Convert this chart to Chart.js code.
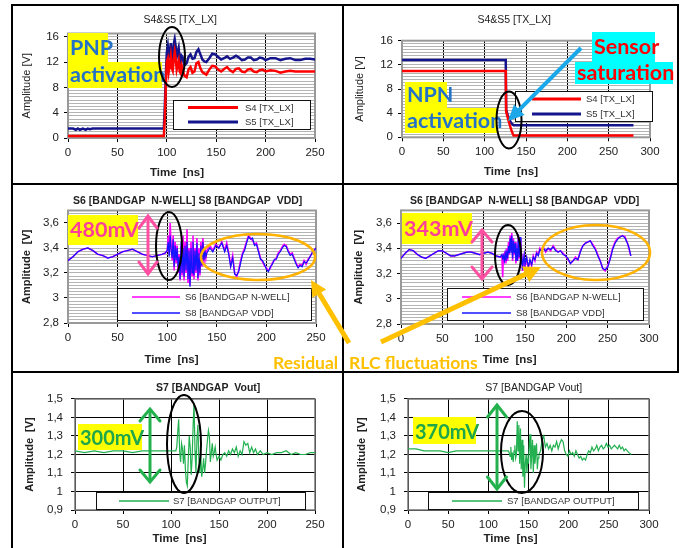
<!DOCTYPE html>
<html><head><meta charset="utf-8">
<script src="https://cdn.jsdelivr.net/npm/chart.js@4.4.1/dist/chart.umd.min.js"></script>
<style>
html,body{margin:0;padding:0;background:#fff;overflow:hidden;}
#root{position:relative;width:683px;height:548px;overflow:hidden;background:#fff;}
#root canvas{position:absolute;}
#ov{position:absolute;left:0;top:0;width:683px;height:548px;}
.tb{position:absolute;font-family:Lato,"Open Sans",sans-serif;font-weight:700;white-space:nowrap;line-height:1;display:flex;align-items:center;box-sizing:border-box;padding-left:2px;}
</style></head>
<body><div id="root"></div>
<script>
// ---------------- DATA ----------------
// Chart 1 : S4 & S5 [TX_LX] (PNP activation)
const c1_t  = [0,5,8,10,12,15,18,20,22,25,30,40,50,60,70,80,90,96,97,98,
  99,100,101,102,103,104,105,106,107,108,109,110,111,112,113,114,115,116,117,118,
  120,122,124,126,128,130,132,134,136,138,140,
  143,146,149,152,155,158,161,164,167,170,173,176,179,182,185,188,191,194,197,200,
  205,210,215,220,225,230,235,240,245,250];
const c1_s4 = [0.3,0.3,0.3,0.3,0.3,0.3,0.3,0.3,0.3,0.3,0.3,0.3,0.3,0.3,0.3,0.3,0.3,0.3,0.3,3,
  8,12,12.5,10.5,11.5,12.8,11,10.6,12.5,13.6,12.5,10.8,11.5,12.2,10.5,10.2,11.5,11,10.2,9.8,
  9.6,10.8,11.2,10.3,10.5,11.8,12,11,10.4,10.2,10,
  10.8,11.4,11.3,10.8,10.5,10.9,11.2,10.7,10.4,10.9,11,10.5,10.4,10.8,10.9,10.5,10.4,10.7,10.8,10.5,
  10.7,10.6,10.3,10.5,10.6,10.5,10.5,10.5,10.5,10.5];
const c1_s5 = [1.5,1.5,1.3,1.5,1.3,1.5,1.3,1.5,1.4,1.5,1.5,1.5,1.5,1.5,1.5,1.5,1.5,1.5,1.5,5,
  10,13.5,14.5,12.8,13,15,13,12.5,14.8,15.6,14.5,12.8,13.5,14.2,12.5,11.8,13,12.8,12,11.5,
  11.8,12.8,13.2,12.5,12.6,13.6,14,13.2,12.4,12.1,12,
  12.6,13.3,13.2,12.8,12.4,12.6,12.9,12.5,12.7,13,12.7,12.3,12.4,12.7,12.7,12.3,12.4,12.7,12.6,12.3,
  12.6,12.6,12.3,12.5,12.6,12.3,12.3,12.5,12.5,12.4];

// Chart 2 : S4 & S5 [TX_LX] (NPN activation)
const c2_t  = [0,125.5,126,128,130,132,134,135,140,200,280];
const c2_s4 = [11,11,4.2,3.2,2.2,1.3,0.6,0.3,0.3,0.3,0.3];
const c2_s5 = [12.8,12.8,4.6,3.6,2.9,2.4,2.1,2.0,2.0,2.0,2.0];

// Chart 3 : S6 / S8 bandgap (left)
const c3_t = [0,5,10,15,20,25,30,35,40,45,50,55,60,65,70,75,80,85,90,95,98,
  100,101,102,103,104,105,106,107,108,109,110,111,112,113,114,115,116,117,118,119,120,
  121,122,123,124,125,126,127,128,129,130,131,132,133,134,135,136,137,138,139,140,
  143,146,149,152,155,158,
  160,162,164,166,168,170,172,174,176,178,180,182,184,186,188,190,192,194,196,198,
  200,202,204,206,208,210,212,214,216,218,220,222,224,226,228,230,232,234,236,238,
  240,242,244,246,248,250];
const c3_s6 = [3.30,3.33,3.37,3.39,3.40,3.38,3.35,3.34,3.32,3.33,3.35,3.37,3.38,3.39,3.37,3.35,3.34,3.33,3.34,3.35,3.36,
  3.38,3.50,3.35,3.60,3.40,3.30,3.50,3.22,3.45,3.28,3.42,3.20,3.35,3.14,3.42,3.18,3.50,3.14,3.45,3.20,3.55,
  3.12,3.40,3.10,3.45,3.18,3.50,3.15,3.40,3.20,3.48,3.14,3.40,3.18,3.45,3.25,3.48,3.28,3.40,3.32,3.38,
  3.42,3.38,3.43,3.40,3.45,3.38,
  3.44,3.36,3.26,3.34,3.20,3.17,3.22,3.30,3.36,3.40,3.45,3.50,3.48,3.46,3.43,3.44,3.38,3.32,3.29,3.26,
  3.24,3.22,3.24,3.28,3.30,3.32,3.36,3.38,3.41,3.43,3.42,3.38,3.35,3.36,3.32,3.28,3.25,3.27,3.26,3.30,
  3.27,3.31,3.33,3.36,3.38,3.40];
const c3_s8 = [3.30,3.33,3.37,3.39,3.40,3.38,3.35,3.34,3.32,3.33,3.35,3.37,3.38,3.39,3.37,3.35,3.34,3.33,3.34,3.35,3.36,
  3.38,3.45,3.33,3.50,3.38,3.32,3.47,3.25,3.42,3.30,3.40,3.25,3.33,3.15,3.45,3.20,3.40,3.17,3.42,3.22,3.45,
  3.15,3.38,3.09,3.40,3.20,3.45,3.18,3.38,3.22,3.44,3.16,3.36,3.20,3.42,3.26,3.45,3.30,3.38,3.33,3.36,
  3.40,3.37,3.42,3.40,3.44,3.37,
  3.42,3.35,3.25,3.32,3.19,3.18,3.21,3.28,3.35,3.38,3.44,3.49,3.47,3.48,3.42,3.43,3.37,3.31,3.30,3.27,
  3.23,3.21,3.25,3.27,3.31,3.31,3.35,3.37,3.40,3.42,3.41,3.37,3.34,3.35,3.31,3.27,3.24,3.26,3.25,3.29,
  3.28,3.30,3.33,3.36,3.38,3.40];

// Chart 4 : S6 / S8 bandgap (right)
const c4_t = [0,5,10,15,20,25,30,35,40,45,50,55,60,65,70,75,80,85,90,95,100,105,110,115,120,
  122,123,124,125,126,127,128,129,130,131,132,133,134,135,136,137,138,139,140,141,142,143,144,145,146,147,148,149,150,
  152,154,156,158,160,162,164,166,168,170,172,
  175,178,181,184,187,190,193,196,199,202,205,208,211,214,217,220,223,226,229,232,
  235,238,241,244,247,250,253,256,259,262,265,268,271,274,276,278];
const c4_s6 = [3.32,3.36,3.39,3.38,3.35,3.33,3.32,3.34,3.36,3.38,3.38,3.36,3.34,3.34,3.35,3.36,3.37,3.37,3.36,3.35,3.36,3.37,3.36,3.34,3.33,
  3.34,3.17,3.36,3.32,3.38,3.28,3.40,3.30,3.45,3.35,3.50,3.38,3.52,3.30,3.48,3.35,3.45,3.28,3.42,3.30,3.50,3.32,3.48,3.28,3.36,3.22,3.30,3.34,3.25,
  3.32,3.24,3.30,3.26,3.34,3.30,3.37,3.35,3.40,3.38,3.41,
  3.37,3.40,3.38,3.42,3.39,3.37,3.38,3.36,3.34,3.31,3.28,3.30,3.33,3.31,3.38,3.42,3.44,3.45,3.46,3.43,
  3.40,3.35,3.30,3.24,3.22,3.26,3.32,3.40,3.45,3.48,3.49,3.50,3.49,3.44,3.39,3.34];
const c4_s8 = [3.32,3.36,3.39,3.38,3.35,3.33,3.32,3.34,3.36,3.38,3.38,3.36,3.34,3.34,3.35,3.36,3.37,3.37,3.36,3.35,3.36,3.37,3.36,3.34,3.33,
  3.35,3.32,3.34,3.30,3.36,3.30,3.38,3.32,3.42,3.36,3.48,3.36,3.50,3.32,3.46,3.36,3.44,3.30,3.40,3.30,3.51,3.33,3.49,3.27,3.35,3.23,3.30,3.35,3.27,
  3.33,3.25,3.31,3.27,3.33,3.31,3.36,3.34,3.39,3.38,3.40,
  3.38,3.40,3.39,3.41,3.38,3.37,3.38,3.35,3.34,3.32,3.28,3.30,3.32,3.31,3.37,3.42,3.44,3.45,3.46,3.42,
  3.39,3.34,3.30,3.24,3.23,3.25,3.31,3.39,3.44,3.47,3.49,3.50,3.48,3.44,3.40,3.34];

// Chart 5 : S7 bandgap Vout (left)
const c5_t = [0,10,20,30,40,50,60,70,80,90,100,105,
  106,107,108,109,110,111,112,113,114,115,116,117,118,119,120,121,122,123,124,125,
  126,127,128,129,130,131,132,133,134,135,136,137,138,139,140,141,142,143,144,145,146,147,148,
  150,152,154,156,158,160,162,164,166,168,170,172,174,176,178,180,182,184,186,188,190,
  193,196,200,205,210,215,220,225,230,235,240,245,250];
const c5_s7 = [1.22,1.21,1.22,1.21,1.22,1.22,1.21,1.22,1.22,1.22,1.22,1.22,
  1.24,1.32,1.39,1.22,1.16,1.26,1.23,1.15,1.25,1.12,1.05,1.03,1.18,1.30,1.24,1.09,1.18,1.35,1.48,1.22,
  1.10,1.28,1.36,1.18,1.10,1.20,1.08,1.12,1.18,1.10,1.15,1.22,1.28,1.33,1.30,1.16,1.21,1.26,1.19,1.21,1.24,1.20,1.17,
  1.19,1.17,1.20,1.21,1.19,1.22,1.20,1.23,1.21,1.24,1.19,1.22,1.20,1.27,1.25,1.26,1.21,1.24,1.21,1.23,1.20,
  1.22,1.20,1.21,1.20,1.21,1.21,1.22,1.20,1.21,1.20,1.20,1.21,1.21];

// Chart 6 : S7 bandgap Vout (right)
const c6_t = [0,10,20,30,40,50,60,70,80,90,100,110,120,125,
  126,127,128,129,130,131,132,133,134,135,136,137,138,139,140,141,142,143,144,145,
  146,147,148,149,150,151,152,153,154,155,156,157,158,159,160,161,162,163,
  165,167,169,171,173,175,177,179,181,183,185,187,189,191,193,195,197,199,201,203,
  205,207,209,211,213,215,217,219,221,223,225,227,229,231,233,235,237,239,241,243,
  245,247,249,251,253,255,257,259,261,263,265,267,269,271,273,275,278];
const c6_s7 = [1.23,1.23,1.22,1.22,1.22,1.21,1.22,1.22,1.22,1.22,1.22,1.22,1.22,1.22,
  1.21,1.19,1.24,1.17,1.21,1.16,1.22,1.25,1.18,1.20,1.38,1.22,1.36,1.15,1.34,1.12,1.28,1.08,1.25,1.02,
  1.15,1.20,1.10,1.18,1.15,1.26,1.31,1.12,1.20,1.28,1.10,1.25,1.15,1.20,1.26,1.12,1.18,1.20,
  1.22,1.28,1.30,1.24,1.26,1.23,1.25,1.22,1.25,1.24,1.27,1.23,1.26,1.28,1.27,1.22,1.20,1.19,1.22,1.20,
  1.21,1.19,1.22,1.20,1.18,1.19,1.17,1.18,1.17,1.20,1.22,1.21,1.24,1.22,1.23,1.25,1.22,1.24,1.25,1.23,
  1.24,1.26,1.24,1.25,1.23,1.24,1.25,1.24,1.23,1.25,1.23,1.24,1.22,1.23,1.22,1.21,1.20];

// Tick labels
const xTicks250 = [0,50,100,150,200,250];
const xTicks300 = [0,50,100,150,200,250,300];
const yTicksTX = [0,4,8,12,16];
const yTicksBG = [2.8,3,3.2,3.4,3.6];
const yTicksVout = [0.9,1,1.1,1.2,1.3,1.4,1.5];

// ---------------- RENDERING ----------------
const root = document.getElementById('root');
const FONT = '"Liberation Sans", Arial, Helvetica, sans-serif';
Chart.defaults.font.family = FONT;
Chart.defaults.color = '#222';
const comma = v => String(v).replace('.', ',');
const pts = (t, v) => t.map((x, i) => ({x: x, y: v[i]}));

const decor = {
  id: 'decor',
  beforeDatasetsDraw(chart, args, o) {
    const a = chart.chartArea, ctx = chart.ctx;
    ctx.save();
    ctx.strokeStyle = o.border; ctx.lineWidth = o.borderWidth;
    ctx.strokeRect(a.left, a.top, a.right - a.left, a.bottom - a.top);
    ctx.restore();
  },
  afterDatasetsDraw(chart, args, o) {
    const lg = o.legend; if (!lg) return;
    const ctx = chart.ctx, ox = o.ox, oy = o.oy;
    ctx.save();
    ctx.fillStyle = '#fff';
    ctx.fillRect(lg.x - ox, lg.y - oy, lg.w, lg.h);
    ctx.strokeStyle = '#111'; ctx.lineWidth = 1;
    ctx.strokeRect(Math.round(lg.x - ox) + 0.5, Math.round(lg.y - oy) + 0.5, lg.w, lg.h);
    ctx.font = '9.5px ' + FONT; ctx.textBaseline = 'middle'; ctx.fillStyle = '#333';
    chart.data.datasets.forEach((ds, i) => {
      const y = lg.rows[i] - oy;
      ctx.strokeStyle = ds.borderColor; ctx.lineWidth = lg.lw;
      ctx.beginPath(); ctx.moveTo(lg.l1 - ox, y); ctx.lineTo(lg.l2 - ox, y); ctx.stroke();
      ctx.fillText(ds.label, lg.tx - ox, y + 0.5);
    });
    ctx.restore();
  },
  afterDraw(chart, args, o) {
    const ctx = chart.ctx;
    ctx.save();
    ctx.font = 'bold 11.5px ' + FONT; ctx.fillStyle = '#222';
    ctx.textAlign = 'center'; ctx.textBaseline = 'middle';
    ctx.fillText(o.xTitle, o.xTitleX - o.ox, o.xTitleY - o.oy);
    ctx.restore();
  }
};

function makeChart(s) {
  const lhT = s.titleSize * 1.2, lhA = 11 * 1.2;
  const left0 = s.yTitleX - lhA / 2;
  const cx = Math.floor(left0), padL = left0 - cx;
  const top0 = s.titleY - lhT / 2;
  const cy = Math.floor(top0), padT = top0 - cy;
  const W = Math.round(2 * (s.titleCX - cx) - padL);
  const H = Math.ceil(s.xTitleY + 9 - cy);
  const yW = s.L - left0, rW = cx + W - s.R, xH = cy + H - s.B;
  const cv = document.createElement('canvas');
  cv.width = W; cv.height = H;
  Object.assign(cv.style, {left: cx + 'px', top: cy + 'px', width: W + 'px', height: H + 'px'});
  root.appendChild(cv);
  const scales = {
    x: {type: 'linear', position: 'bottom', min: 0, max: s.xMax,
      afterBuildTicks: sc => { sc.ticks = s.xTicks.map(v => ({value: v})); },
      ticks: {font: {size: 11.5}, color: '#222', padding: 4, maxRotation: 0, autoSkip: false},
      grid: {color: '#000', tickColor: '#000', tickLength: 4, lineWidth: 1},
      border: {color: '#000'},
      afterFit: sc => { sc.height = xH; sc.paddingLeft = 0; sc.paddingRight = 0; }},
    y: {type: 'linear', position: 'left', min: s.yMin, max: s.yMax,
      afterBuildTicks: sc => { sc.ticks = s.yTicks.map(v => ({value: v})); },
      ticks: {font: {size: 11.5}, color: '#222', padding: s.yPad, callback: v => comma(v), autoSkip: false},
      grid: {color: '#000', tickColor: '#000', tickLength: 4, lineWidth: 1},
      border: {color: '#000'},
      title: {display: true, text: s.yTitle, font: {size: 11, weight: s.yBold ? 'bold' : 'normal'}, color: '#222', padding: 0},
      afterFit: sc => { sc.width = yW; sc.paddingTop = 0; sc.paddingBottom = 0; }}
  };
  if (s.minor) {
    scales.ym = {type: 'linear', position: 'left', min: s.yMin, max: s.yMax, z: -1,
      afterBuildTicks: sc => {
        const t = [];
        for (let v = s.yMin; v <= s.yMax + 1e-9; v += s.minor) t.push({value: +v.toFixed(4)});
        sc.ticks = t;
      },
      ticks: {display: false},
      grid: {color: '#b4b4b4', drawTicks: false, lineWidth: 1},
      border: {display: false},
      afterFit: sc => { sc.width = 0; sc.paddingTop = 0; sc.paddingBottom = 0; }};
  }
  scales.yr = {type: 'linear', position: 'right', min: 0, max: 1,
    ticks: {display: false}, grid: {display: false, drawTicks: false}, border: {display: false},
    afterFit: sc => { sc.width = rW; sc.paddingTop = 0; sc.paddingBottom = 0; }};

  new Chart(cv, {
    type: 'line',
    data: {datasets: s.datasets},
    options: {
      responsive: false, animation: false, events: [],
      layout: {padding: {left: padL, top: padT, right: 0, bottom: 0}},
      elements: {point: {radius: 0}, line: {tension: 0}},
      plugins: {
        legend: {display: false}, tooltip: {enabled: false},
        title: {display: true, text: s.title, color: '#222',
          font: {size: s.titleSize, weight: s.titleBold ? 'bold' : 'normal'},
          padding: {top: 0, bottom: s.T - s.titleY - lhT / 2}},
        decor: {ox: cx, oy: cy, border: s.border, borderWidth: s.borderWidth, legend: s.legend,
          xTitle: 'Time  [ns]', xTitleX: s.xTitleCX, xTitleY: s.xTitleY}
      },
      scales: scales
    },
    plugins: [decor]
  });
}

const dsLine = (label, t, v, color, w, order) => ({label: label, data: pts(t, v), borderColor: color,
  backgroundColor: color, borderWidth: w, fill: false, pointRadius: 0, xAxisID: 'x', yAxisID: 'y', order: order || 0});

// Chart 1
makeChart({title: 'S4&S5 [TX_LX]', titleSize: 10.5, titleBold: false, titleCX: 180, titleY: 20.5,
  yTitle: 'Amplitude [V]', yBold: false, yTitleX: 27, yPad: 5, xTitleCX: 177, xTitleY: 173,
  L: 68, R: 315, T: 33.5, B: 138, xMax: 250, xTicks: xTicks250, yMin: 0, yMax: 16.5, yTicks: yTicksTX, minor: 0.5,
  border: '#999', borderWidth: 2,
  legend: {x: 173, y: 100, w: 137, h: 29, rows: [107.5, 122], l1: 188, l2: 238, tx: 245, lw: 3},
  datasets: [dsLine('S4 [TX_LX]', c1_t, c1_s4, '#FF0000', 2.5, 0), dsLine('S5 [TX_LX]', c1_t, c1_s5, '#14148C', 2.5, 1)]});

// Chart 2
makeChart({title: 'S4&S5 [TX_LX]', titleSize: 10.5, titleBold: false, titleCX: 514, titleY: 20.5,
  yTitle: 'Amplitude [V]', yBold: false, yTitleX: 360, yPad: 5, xTitleCX: 511, xTitleY: 172,
  L: 402, R: 650, T: 40.7, B: 137.3, xMax: 300, xTicks: xTicks300, yMin: 0, yMax: 16, yTicks: yTicksTX, minor: 0.5,
  border: '#999', borderWidth: 2,
  legend: {x: 515, y: 91, w: 137, h: 30, rows: [99, 114], l1: 532, l2: 581, tx: 586, lw: 3},
  datasets: [dsLine('S4 [TX_LX]', c2_t, c2_s4, '#FF0000', 2.5, 0), dsLine('S5 [TX_LX]', c2_t, c2_s5, '#14148C', 2.5, 1)]});

// Chart 3
makeChart({title: 'S6 [BANDGAP  N-WELL] S8 [BANDGAP  VDD]', titleSize: 10.5, titleBold: true, titleCX: 187.5, titleY: 200.7,
  yTitle: 'Amplitude  [V]', yBold: true, yTitleX: 27, yPad: 5, xTitleCX: 171.5, xTitleY: 360,
  L: 68, R: 316, T: 210.5, B: 323, xMax: 250, xTicks: xTicks250, yMin: 2.8, yMax: 3.7, yTicks: yTicksBG, minor: 0.025,
  border: '#999', borderWidth: 2,
  legend: {x: 117, y: 288, w: 194, h: 32, rows: [297, 313], l1: 132, l2: 180, tx: 185, lw: 1.5},
  datasets: [dsLine('S6 [BANDGAP N-WELL]', c3_t, c3_s6, '#FF00FF', 1.6, 1), dsLine('S8 [BANDGAP VDD]', c3_t, c3_s8, '#1414FF', 1.2, 0)]});

// Chart 4
makeChart({title: 'S6 [BANDGAP  N-WELL] S8 [BANDGAP  VDD]', titleSize: 10.5, titleBold: true, titleCX: 524.5, titleY: 200.7,
  yTitle: 'Amplitude  [V]', yBold: true, yTitleX: 359, yPad: 5, xTitleCX: 509.5, xTitleY: 360,
  L: 401, R: 649, T: 210.4, B: 324, xMax: 300, xTicks: xTicks300, yMin: 2.8, yMax: 3.7, yTicks: yTicksBG, minor: 0.025,
  border: '#999', borderWidth: 2,
  legend: {x: 447, y: 288, w: 196, h: 32, rows: [297, 313], l1: 462, l2: 511, tx: 516, lw: 1.5},
  datasets: [dsLine('S6 [BANDGAP N-WELL]', c4_t, c4_s6, '#FF00FF', 1.6, 1), dsLine('S8 [BANDGAP VDD]', c4_t, c4_s8, '#1414FF', 1.2, 0)]});

// Chart 5
makeChart({title: 'S7 [BANDGAP  Vout]', titleSize: 10.5, titleBold: true, titleCX: 208, titleY: 388,
  yTitle: 'Amplitude  [V]', yBold: true, yTitleX: 30, yPad: 8, xTitleCX: 179.5, xTitleY: 539,
  L: 75, R: 315, T: 399, B: 510, xMax: 250, xTicks: xTicks250, yMin: 0.9, yMax: 1.5, yTicks: yTicksVout, minor: 0,
  border: '#777', borderWidth: 1.5,
  legend: {x: 96, y: 492, w: 209, h: 17, rows: [501], l1: 119, l2: 169, tx: 173, lw: 1.5},
  datasets: [dsLine('S7 [BANDGAP OUTPUT]', c5_t, c5_s7, '#22B050', 1.2, 0)]});

// Chart 6
makeChart({title: 'S7 [BANDGAP Vout]', titleSize: 10.5, titleBold: false, titleCX: 533.5, titleY: 388,
  yTitle: 'Amplitude  [V]', yBold: true, yTitleX: 362, yPad: 8, xTitleCX: 510.5, xTitleY: 539,
  L: 408, R: 649, T: 399, B: 510, xMax: 300, xTicks: xTicks300, yMin: 0.9, yMax: 1.5, yTicks: yTicksVout, minor: 0,
  border: '#777', borderWidth: 1.5,
  legend: {x: 428, y: 492, w: 210, h: 17, rows: [501], l1: 452, l2: 502, tx: 507, lw: 1.5},
  datasets: [dsLine('S7 [BANDGAP OUTPUT]', c6_t, c6_s7, '#22B050', 1.2, 0)]});

// ---------------- ANNOTATIONS ----------------
const svgParts = [];
const line = (x1, y1, x2, y2, c, w) => svgParts.push(`<line x1="${x1}" y1="${y1}" x2="${x2}" y2="${y2}" stroke="${c}" stroke-width="${w}" stroke-linecap="square"/>`);
const ell = (cx, cy, rx, ry, c, w) => svgParts.push(`<ellipse cx="${cx}" cy="${cy}" rx="${rx}" ry="${ry}" fill="none" stroke="${c}" stroke-width="${w}"/>`);
function arrow(x1, y1, x2, y2, c, w, hl, hw) {
  const dx = x2 - x1, dy = y2 - y1, L = Math.hypot(dx, dy), ux = dx / L, uy = dy / L;
  const bx = x2 - ux * hl, by = y2 - uy * hl;
  svgParts.push(`<line x1="${x1}" y1="${y1}" x2="${bx + ux * 2}" y2="${by + uy * 2}" stroke="${c}" stroke-width="${w}"/>`);
  svgParts.push(`<polygon points="${x2},${y2} ${bx - uy * hw / 2},${by + ux * hw / 2} ${bx + uy * hw / 2},${by - ux * hw / 2}" fill="${c}"/>`);
}
function dbl(x, y1, y2, c, w, hw, hl) {
  svgParts.push(`<line x1="${x}" y1="${y1 + 1}" x2="${x}" y2="${y2 - 1}" stroke="${c}" stroke-width="${w}"/>`);
  svgParts.push(`<polyline points="${x - hw},${y1 + hl} ${x},${y1 + 1} ${x + hw},${y1 + hl}" fill="none" stroke="${c}" stroke-width="${w}" stroke-linecap="round" stroke-linejoin="miter"/>`);
  svgParts.push(`<polyline points="${x - hw},${y2 - hl} ${x},${y2 - 1} ${x + hw},${y2 - hl}" fill="none" stroke="${c}" stroke-width="${w}" stroke-linecap="round" stroke-linejoin="miter"/>`);
}
// panel borders
line(12, 5, 678, 5, '#000', 2);
line(12, 184, 678, 184, '#000', 2);
line(12, 372, 678, 372, '#000', 2);
line(12, 5, 12, 548, '#000', 2);
line(343, 5, 343, 548, '#000', 2);
line(678, 5, 678, 372, '#000', 2);
// ellipses
ell(172, 57, 13, 30, '#000', 2);
ell(509, 120, 12.5, 28.5, '#000', 2);
ell(169, 246, 13, 34, '#000', 2);
ell(508, 255, 13, 30, '#000', 2);
ell(184, 444, 17, 49, '#000', 2);
ell(522, 452, 21, 41, '#000', 2);
ell(258, 257, 57, 23, '#FFB300', 2.5);
ell(596, 252.5, 54, 27.5, '#FFB300', 2.5);
// arrows
arrow(581, 48, 508, 121, '#1CA8E8', 4, 16, 15);
arrow(349, 343, 311, 280, '#FFC000', 5, 16, 16);
arrow(381, 342, 541, 267, '#FFC000', 5, 17, 17);
dbl(148, 215, 275, '#FF4FA3', 3, 9, 13);
dbl(482, 229, 280, '#FF4FA3', 3, 10, 13);
dbl(150, 408, 483, '#22B14C', 3, 10, 13);
dbl(497, 404, 490, '#22B14C', 3, 9.5, 13);

const svg = document.createElementNS('http://www.w3.org/2000/svg', 'svg');
svg.setAttribute('id', 'ov'); svg.setAttribute('width', '683'); svg.setAttribute('height', '548');
svg.innerHTML = svgParts.join('');

function tbox(x, y, w, h, text, color, bg, size) {
  const d = document.createElement('div');
  d.className = 'tb';
  Object.assign(d.style, {left: x + 'px', top: y + 'px', width: w + 'px', height: h + 'px',
    color: color, background: bg || 'transparent', fontSize: size + 'px'});
  d.textContent = text;
  root.appendChild(d);
}
tbox(68, 33, 40, 29, 'PNP', '#2472C8', '#FFFF00', 21.5);
tbox(68, 62, 94, 26, 'activation', '#2472C8', '#FFFF00', 21.5);
tbox(405, 82, 42, 26, 'NPN', '#2472C8', '#FFFF00', 21.5);
tbox(405, 108, 92, 25, 'activation', '#2472C8', '#FFFF00', 21.5);
tbox(592, 32, 63, 30, 'Sensor', '#FF0000', '#00FFFF', 21.5);
tbox(575, 62, 98, 22, 'saturation', '#FF0000', '#00FFFF', 21.5);
tbox(68, 215, 70, 30, '480mV', '#FF3D9A', '#FFFF00', 21.5);
tbox(402, 213, 70, 31, '343mV', '#FF3D9A', '#FFFF00', 21.5);
tbox(78, 424, 64, 26, '300mV', '#1FA64A', '#FFFF00', 20);
tbox(413, 417, 63, 27, '370mV', '#1FA64A', '#FFFF00', 20);
root.appendChild(svg);
tbox(271, 354, 72, 18, 'Residual', '#FFC000', null, 17.5);
tbox(347, 354, 130, 18, 'RLC fluctuations', '#FFC000', null, 17.5);
</script>
</body></html>
